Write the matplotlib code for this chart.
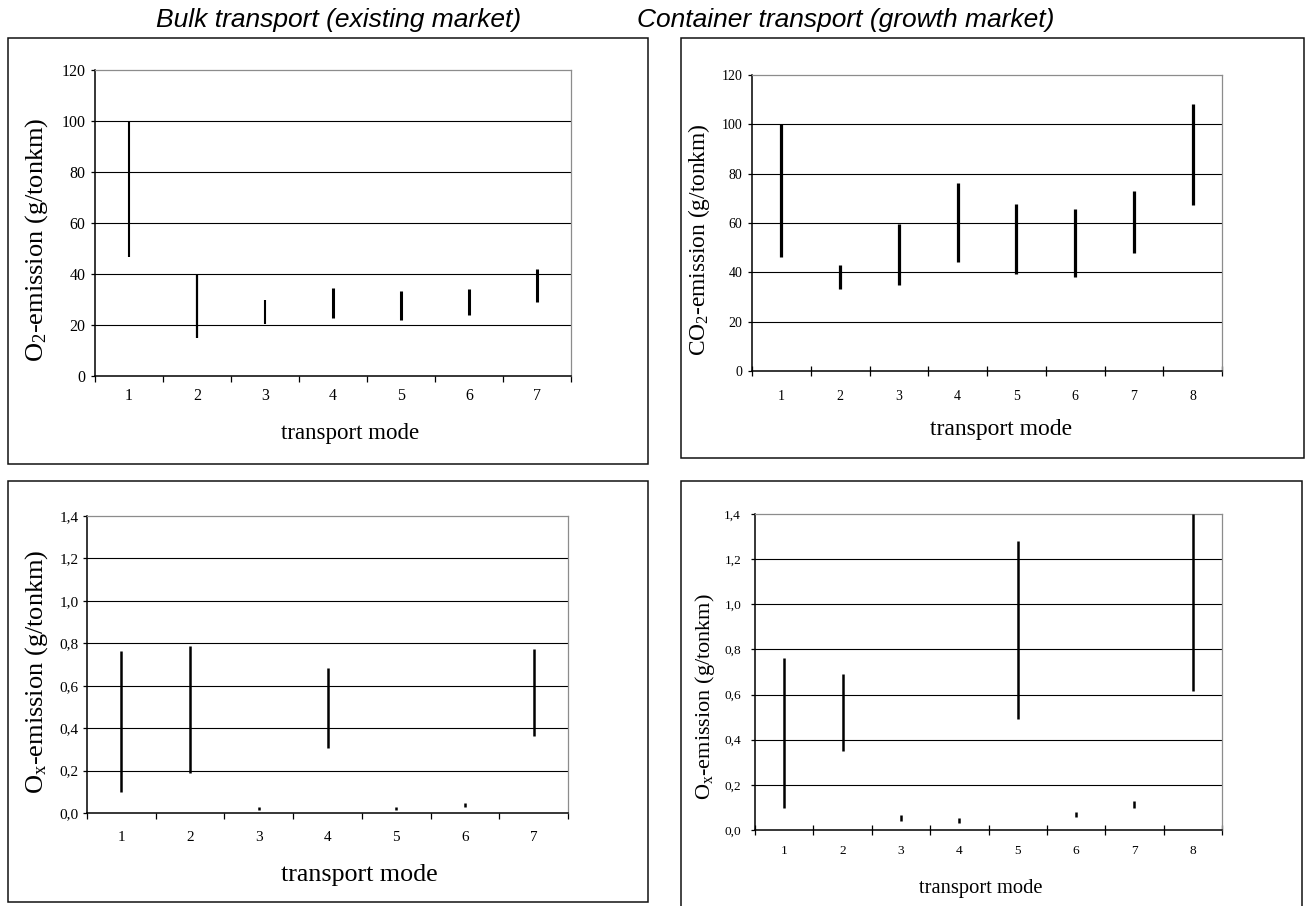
"""Emission ranges per transport mode, bulk vs container (2x2 panels)."""

import matplotlib

matplotlib.use("Agg")
import matplotlib.pyplot as plt
from matplotlib.patches import Rectangle
from matplotlib.ticker import FixedLocator, NullFormatter

plt.rcParams["font.family"] = "Liberation Serif"
plt.rcParams["mathtext.fontset"] = "custom"
plt.rcParams["mathtext.rm"] = "Liberation Serif"
plt.rcParams["mathtext.it"] = "Liberation Serif:italic"

W, H = 1309, 906

# --- data ---
bulk_modes = [1, 2, 3, 4, 5, 6, 7]
bulk_co2_low = [46.5, 15, 20.3, 22.8, 21.9, 23.8, 28.9]
bulk_co2_high = [100, 40, 30, 34.6, 33.2, 34, 42]
bulk_nox_low = [0.10, 0.19, 0.013, 0.307, 0.013, 0.028, 0.362]
bulk_nox_high = [0.763, 0.788, 0.028, 0.683, 0.028, 0.047, 0.772]

cont_modes = [1, 2, 3, 4, 5, 6, 7, 8]
cont_co2_low = [46.4, 33.1, 35, 44.1, 39.3, 38, 47.9, 67.5]
cont_co2_high = [100, 43.1, 59.4, 76.1, 67.9, 65.5, 73, 108.2]
cont_nox_low = [0.099, 0.35, 0.041, 0.030, 0.491, 0.056, 0.096, 0.614]
cont_nox_high = [0.761, 0.692, 0.067, 0.052, 1.279, 0.081, 0.129, 1.40]

co2_ticks = [0, 20, 40, 60, 80, 100, 120]
co2_labels = ["0", "20", "40", "60", "80", "100", "120"]
nox_ticks = [0.0, 0.2, 0.4, 0.6, 0.8, 1.0, 1.2, 1.4]
nox_labels = ["0,0", "0,2", "0,4", "0,6", "0,8", "1,0", "1,2", "1,4"]

titles = ["Bulk transport (existing market)", "Container transport (growth market)"]
xlabel = "transport mode"
ylabels = [
    "O$_2$-emission (g/tonkm)",
    "CO$_2$-emission (g/tonkm)",
    "O$_\\mathrm{x}$-emission (g/tonkm)",
    "O$_\\mathrm{x}$-emission (g/tonkm)",
]


def px_rect(x0, y0, x1, y1):
    return [x0 / W, 1 - y1 / H, (x1 - x0) / W, (y1 - y0) / H]


def fig_text(fig, x, y, s, **kw):
    fig.text(x / W, 1 - y / H, s, **kw)


def draw_box(fig, x0, y0, x1, y1):
    fig.patches.append(
        Rectangle((x0 / W, 1 - y1 / H), (x1 - x0) / W, (y1 - y0) / H,
                  transform=fig.transFigure, fill=False, lw=1.1,
                  edgecolor="#111111", zorder=0)
    )


def panel(fig, rect, modes, low, high, yticks, ylabs, ylim, style):
    ax = fig.add_axes(px_rect(*rect))
    n = len(modes)
    ax.vlines(modes, low, high, colors="black", linewidth=style["bar_lw"], zorder=3)
    ax.set_xlim(0.5, n + 0.5)
    ax.set_ylim(*ylim)

    # category borders get the tick marks, the numbers sit in between
    ax.xaxis.set_major_locator(FixedLocator([m + 0.5 for m in [0] + modes]))
    ax.xaxis.set_major_formatter(NullFormatter())
    ax.xaxis.set_minor_locator(FixedLocator(modes))
    ax.set_xticklabels([str(m) for m in modes], minor=True)
    ax.tick_params(axis="x", which="major", direction=style["xdir"], length=style["xlen"],
                   width=0.9, color="black")
    ax.tick_params(axis="x", which="minor", length=0, pad=style["xpad"],
                   labelsize=style["tick_fs"])

    ax.set_yticks(yticks)
    ax.set_yticklabels(ylabs)
    ax.tick_params(axis="y", direction="out", length=3, width=0.9,
                   pad=style["ypad"], labelsize=style["tick_fs"])

    ax.yaxis.grid(True, color="black", linewidth=0.8)
    grid = ax.get_ygridlines()
    grid[0].set_visible(False)
    grid[-1].set_visible(False)
    ax.set_axisbelow(True)

    for side in ("left", "bottom"):
        ax.spines[side].set_color("black")
        ax.spines[side].set_linewidth(1.1)
    for side in ("top", "right"):
        ax.spines[side].set_color("#8c8c8c")
        ax.spines[side].set_linewidth(0.9)
    return ax


fig = plt.figure(figsize=(W / 100, H / 100), dpi=100)

# titles
fig_text(fig, 339, 27, titles[0], family="Liberation Sans", style="italic",
         fontsize=19, ha="center", va="baseline")
fig_text(fig, 846, 27, titles[1], family="Liberation Sans", style="italic",
         fontsize=19, ha="center", va="baseline")

# frames round each chart (bottom-right one runs off the page)
draw_box(fig, 8, 38, 648, 464)
draw_box(fig, 681, 38, 1304, 458)
draw_box(fig, 8, 481, 648, 902)
draw_box(fig, 681, 481, 1302, 920)

panel(fig, (95, 70, 571, 376), bulk_modes, bulk_co2_low, bulk_co2_high,
      co2_ticks, co2_labels, (0, 120),
      dict(bar_lw=[1.5, 1.6, 1.5, 2.2, 2.2, 2.2, 2.2], xdir="out", xlen=4,
           xpad=9, ypad=4, tick_fs=11.5))
fig_text(fig, 37, 240, ylabels[0], rotation=90, fontsize=19, ha="center", va="center")
fig_text(fig, 350, 433, xlabel, fontsize=16.5, ha="center", va="center")

panel(fig, (752, 75, 1222, 371), cont_modes, cont_co2_low, cont_co2_high,
      co2_ticks, co2_labels, (0, 120),
      dict(bar_lw=2.3, xdir="inout", xlen=7, xpad=14, ypad=4, tick_fs=10))
fig_text(fig, 699, 240, ylabels[1], rotation=90, fontsize=16.8, ha="center", va="center")
fig_text(fig, 1001, 430, xlabel, fontsize=17, ha="center", va="center")

panel(fig, (87, 516, 568, 813), bulk_modes, bulk_nox_low, bulk_nox_high,
      nox_ticks, nox_labels, (0, 1.4),
      dict(bar_lw=1.8, xdir="out", xlen=4, xpad=13, ypad=3, tick_fs=11))
fig_text(fig, 37, 672, ylabels[2], rotation=90, fontsize=19, ha="center", va="center")
fig_text(fig, 359, 875, xlabel, fontsize=18.7, ha="center", va="center")

panel(fig, (755, 514, 1222, 830), cont_modes, cont_nox_low, cont_nox_high,
      nox_ticks, nox_labels, (0, 1.4),
      dict(bar_lw=1.8, xdir="inout", xlen=7, xpad=11, ypad=7, tick_fs=9.6))
fig_text(fig, 705, 697, ylabels[3], rotation=90, fontsize=16, ha="center", va="center")
fig_text(fig, 981, 888, xlabel, fontsize=14.8, ha="center", va="center")

fig.savefig("out.png", dpi=100)
